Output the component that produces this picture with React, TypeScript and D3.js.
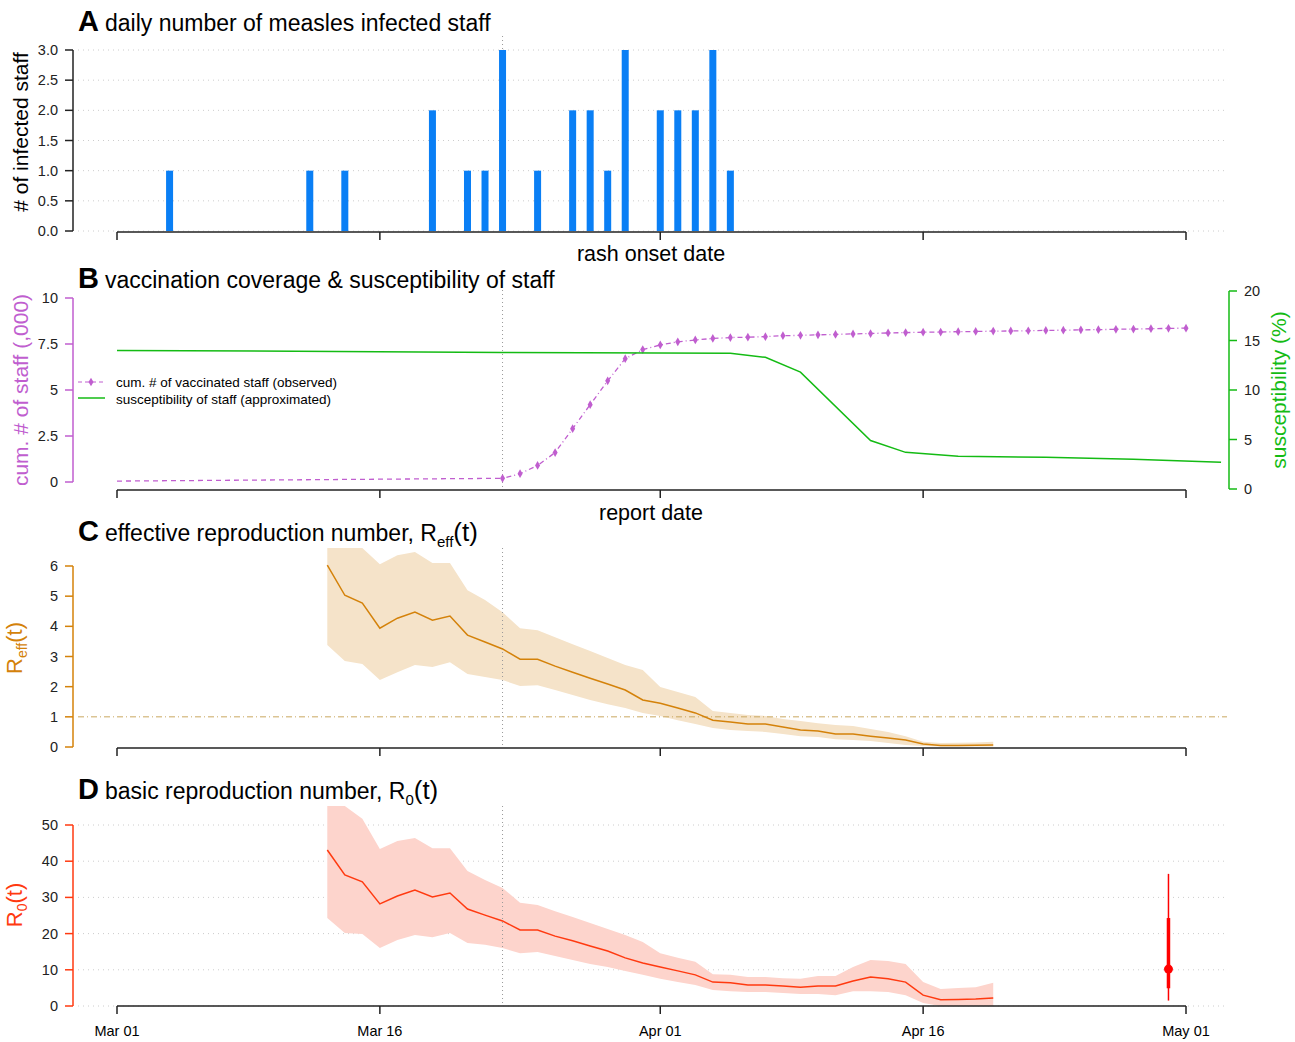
import React from 'react';
import * as d3 from 'd3';

const FONT = '"Liberation Sans", Arial, sans-serif';
const day = (m: number, d: number) => new Date(2000, m - 1, d);

// panel A: rash onset counts
const onsetDays = [[3,4],[3,12],[3,14],[3,19],[3,21],[3,22],[3,23],[3,25],[3,27],[3,28],[3,29],[3,30],[4,1],[4,2],[4,3],[4,4],[4,5]];
const onsetCounts = [1,1,1,2,1,1,3,1,2,2,1,3,2,2,2,3,1];

// panel B
const vaccStart = [day(3, 1), 0.05];
const vaccValues = [0.2,0.45,0.9,1.6,2.9,4.2,5.5,6.7,7.2,7.45,7.62,7.72,7.8,7.85,7.87,7.9,7.95,7.97,8.0,8.02,8.05,8.07,8.1,8.12,8.14,8.15,8.17,8.18,8.2,8.21,8.22,8.24,8.25,8.27,8.28,8.3,8.31,8.33,8.35,8.36]; // from Mar 23 daily
const suscDays = [[3,1],[3,23],[4,5],[4,7],[4,9],[4,13],[4,15],[4,18],[4,23],[4,28],[5,3]];
const suscValues = [14.0,13.8,13.7,13.3,11.8,4.9,3.7,3.3,3.2,3.0,2.7];

// panel C: Reff daily from Mar 13
const reffMid = [6.03,5.03,4.77,3.94,4.27,4.47,4.2,4.34,3.71,3.48,3.25,2.91,2.91,2.68,2.48,2.28,2.09,1.89,1.56,1.45,1.29,1.13,0.89,0.83,0.76,0.76,0.66,0.56,0.53,0.43,0.43,0.36,0.3,0.23,0.1,0.05,0.05,0.06,0.07];
const reffHi = [6.8,6.8,6.8,6.06,6.36,6.46,6.1,6.1,5.2,4.87,4.47,3.94,3.87,3.64,3.41,3.18,2.95,2.72,2.55,1.99,1.82,1.66,1.19,1.13,1.06,1.03,0.93,0.86,0.79,0.73,0.7,0.6,0.5,0.36,0.17,0.13,0.14,0.15,0.17];
const reffLo = [3.38,2.85,2.75,2.22,2.48,2.72,2.65,2.81,2.42,2.32,2.22,2.02,2.05,1.89,1.72,1.56,1.42,1.29,1.13,1.03,0.89,0.76,0.63,0.56,0.53,0.5,0.43,0.36,0.33,0.26,0.23,0.2,0.13,0.07,0.03,0.02,0.02,0.02,0.02];

// panel D: R0 daily from Mar 13
const r0Mid = [43.1,36.2,34.3,28.2,30.4,32,30.1,31.2,26.8,25.1,23.5,21,21,19.3,18,16.6,15.2,13.3,11.9,10.8,9.7,8.6,6.6,6.4,5.8,5.8,5.5,5.2,5.5,5.5,6.9,8.0,7.5,6.6,3.0,1.7,1.8,1.9,2.2];
const r0Hi = [56,56,51.7,43.4,45.6,46.4,43.6,43.6,37.3,34.8,32.6,28.5,27.9,26.2,24.6,22.9,21.3,19.6,17.7,14.6,13.3,12.2,8.8,8.6,8.0,8.0,7.7,7.5,8.3,8.3,10.8,12.7,12.4,11.6,6.6,4.7,5,5.2,6.4];
const r0Lo = [24.3,20.2,19.9,16,18.2,19.6,19,20.2,17.4,16.9,16,14.6,14.9,13.8,12.7,11.6,10.8,9.7,8.6,7.5,6.6,5.8,4.4,4.1,3.9,3.9,3.6,3.3,3.3,3.0,4.1,4.1,3.9,3.0,0.8,0,0,0,0];
const r0Summary = { date: day(4, 30), mid: 10.2, lo50: 4.9, hi50: 24.3, lo95: 1.5, hi95: 36.5 };

const tickDates = [day(3, 1), day(3, 16), day(4, 1), day(4, 16), day(5, 1)];
const tickLabels = ['Mar 01', 'Mar 16', 'Apr 01', 'Apr 16', 'May 01'];
const refDate = day(3, 23);

const dailyFrom = (m: number, d: number, n: number) => d3.range(n).map(i => day(m, d + i));

export default function App() {
  const x = d3.scaleTime().domain([day(3, 1), day(5, 1)]).range([117, 1186]);
  const gridX0 = 78, gridX1 = 1227;

  const yA = d3.scaleLinear().domain([0, 3]).range([231, 50]);
  const yB = d3.scaleLinear().domain([0, 10]).range([482, 298]);
  const yB2 = d3.scaleLinear().domain([0, 20]).range([489, 291]);
  const yC = d3.scaleLinear().domain([0, 6]).range([747, 566]);
  const yD = d3.scaleLinear().domain([0, 50]).range([1006, 825]);

  const cDays = dailyFrom(3, 13, reffMid.length);
  const vDays = dailyFrom(3, 23, vaccValues.length);

  const vLine = d3.line<[Date, number]>().x(d => x(d[0])).y(d => yB(d[1]));
  const sLine = d3.line<[Date, number]>().x(d => x(d[0])).y(d => yB2(d[1]));
  const band = (hi: number[], lo: number[], y: d3.ScaleLinear<number, number>, clip: number) =>
    d3.area<number>().x((_, i) => x(cDays[i])).y0((_, i) => y(lo[i])).y1((_, i) => Math.max(y(hi[i]), clip))(d3.range(hi.length)) as string;
  const mline = (v: number[], y: d3.ScaleLinear<number, number>) =>
    d3.line<number>().x((_, i) => x(cDays[i])).y(d => y(d))(v) as string;

  const xAxis = (y0: number, labels: boolean) => (
    <g>
      <line x1={x(tickDates[0])} x2={x(tickDates[4])} y1={y0} y2={y0} stroke="#222" strokeWidth={1.5} />
      {tickDates.map((t, i) => (
        <g key={i}>
          <line x1={x(t)} x2={x(t)} y1={y0} y2={y0 + 8} stroke="#222" strokeWidth={1.5} />
          {labels && <text x={x(t)} y={y0 + 30} textAnchor="middle" fontSize={14.5}>{tickLabels[i]}</text>}
        </g>
      ))}
    </g>
  );

  const yAxis = (y: d3.ScaleLinear<number, number>, ticks: number[], fmt: (v: number) => string, color: string, ax = 73, right = false, grid = true) => (
    <g>
      <line x1={ax} x2={ax} y1={y(ticks[0])} y2={y(ticks[ticks.length - 1])} stroke={color} strokeWidth={1.5} />
      {ticks.map(t => (
        <g key={t}>
          {grid && <line x1={gridX0} x2={gridX1} y1={y(t)} y2={y(t)} stroke="#ccc" strokeDasharray="1,4" />}
          <line x1={ax} x2={right ? ax + 8 : ax - 8} y1={y(t)} y2={y(t)} stroke={color} strokeWidth={1.5} />
          <text x={right ? ax + 15 : ax - 15} y={y(t) + 5} textAnchor={right ? 'start' : 'end'} fontSize={14.5} fill="#222">{fmt(t)}</text>
        </g>
      ))}
    </g>
  );

  const title = (y: number, letter: string, body: React.ReactNode) => (
    <text x={78} y={y} fontSize={23}>
      <tspan fontWeight="bold" fontSize={29}>{letter}</tspan>
      <tspan dx={6}>{body}</tspan>
    </text>
  );

  const vline = (y1: number, y2: number) => (
    <line x1={x(refDate)} x2={x(refDate)} y1={y1} y2={y2} stroke="#999" strokeDasharray="1,3" />
  );

  const purple = '#c05ecf', green = '#14bb14', orange = '#d4820a', red = '#ff3a10';

  return (
    <svg width={1295} height={1042} style={{ position: 'absolute', left: 0, top: 0, fontFamily: FONT, background: '#fff' }}>
      {/* Panel A */}
      {title(31, 'A', 'daily number of measles infected staff')}
      {yAxis(yA, [0, 0.5, 1, 1.5, 2, 2.5, 3], d3.format('.1f'), '#222')}
      {vline(36, 231)}
      {onsetDays.map((d, i) => (
        <rect key={i} x={x(day(d[0], d[1])) - 3.5} width={7} y={yA(onsetCounts[i])} height={yA(0) - yA(onsetCounts[i])} fill="#0a7ff5" />
      ))}
      {xAxis(232, false)}
      <text x={651} y={261} textAnchor="middle" fontSize={21.5}>rash onset date</text>
      <text transform="translate(28,132) rotate(-90)" textAnchor="middle" fontSize={21}># of infected staff</text>

      {/* Panel B */}
      {title(288, 'B', 'vaccination coverage & susceptibility of staff')}
      {yAxis(yB, [0, 2.5, 5, 7.5, 10], d => String(d), purple, 73, false, false)}
      {yAxis(yB2, [0, 5, 10, 15, 20], d => String(d), green, 1229, true, false)}
      {vline(290, 489)}
      <path d={vLine([[vaccStart[0] as Date, vaccStart[1] as number], [vDays[0], vaccValues[0]]]) as string} fill="none" stroke={purple} strokeWidth={1.3} strokeDasharray="5,4" />
      <path d={vLine(vDays.map((d, i) => [d, vaccValues[i]] as [Date, number])) as string} fill="none" stroke={purple} strokeWidth={1.3} strokeDasharray="1,3,5,3" />
      {vDays.map((d, i) => (
        <path key={i} d={d3.symbol(d3.symbolDiamond, 22)() as string} transform={`translate(${x(d)},${yB(vaccValues[i])})`} fill={purple} />
      ))}
      <path d={sLine(suscDays.map((d, i) => [day(d[0], d[1]), suscValues[i]] as [Date, number])) as string} fill="none" stroke={green} strokeWidth={1.5} />
      {xAxis(490, false)}
      <text x={651} y={520} textAnchor="middle" fontSize={21.5}>report date</text>
      <text transform="translate(28,390) rotate(-90)" textAnchor="middle" fontSize={21} fill={purple}>cum. # of staff (,000)</text>
      <text transform="translate(1286,390) rotate(-90)" textAnchor="middle" fontSize={21} fill={green}>susceptibility (%)</text>
      <g fontSize={13.5}>
        <line x1={78} x2={105} y1={382} y2={382} stroke={purple} strokeDasharray="4,3" />
        <path d={d3.symbol(d3.symbolDiamond, 22)() as string} transform="translate(91,382)" fill={purple} />
        <text x={116} y={387}>cum. # of vaccinated staff (observed)</text>
        <line x1={78} x2={105} y1={398} y2={398} stroke={green} strokeWidth={1.5} />
        <text x={116} y={404}>susceptibility of staff (approximated)</text>
      </g>

      {/* Panel C */}
      {title(541, 'C', <>effective reproduction number, R<tspan fontSize={15} dy={6}>eff</tspan><tspan dy={-6} fontSize={26}>(t)</tspan></>)}
      {yAxis(yC, [0, 1, 2, 3, 4, 5, 6], d => String(d), orange, 73, false, false)}
      <path d={band(reffHi, reffLo, yC, 548)} fill="#f5e3c9" />
      {vline(548, 747)}
      <line x1={gridX0} x2={gridX1} y1={yC(1)} y2={yC(1)} stroke="#c9a860" strokeDasharray="6,3,1,3" />
      <path d={mline(reffMid, yC)} fill="none" stroke={orange} strokeWidth={1.5} />
      {xAxis(748, false)}
      <text transform="translate(22,648) rotate(-90)" textAnchor="middle" fontSize={22} fill={orange}>R<tspan fontSize={14} dy={5}>eff</tspan><tspan dy={-5}>(t)</tspan></text>

      {/* Panel D */}
      {title(799, 'D', <>basic reproduction number, R<tspan fontSize={15} dy={6}>0</tspan><tspan dy={-6} fontSize={26}>(t)</tspan></>)}
      {yAxis(yD, [0, 10, 20, 30, 40, 50], d => String(d), red)}
      <path d={band(r0Hi, r0Lo, yD, 806)} fill="#fdd4cc" />
      {vline(806, 1006)}
      <path d={mline(r0Mid, yD)} fill="none" stroke={red} strokeWidth={1.5} />
      <line x1={x(r0Summary.date)} x2={x(r0Summary.date)} y1={yD(r0Summary.lo95)} y2={yD(r0Summary.hi95)} stroke="#f00" strokeWidth={1.5} />
      <line x1={x(r0Summary.date)} x2={x(r0Summary.date)} y1={yD(r0Summary.lo50)} y2={yD(r0Summary.hi50)} stroke="#f00" strokeWidth={3.5} />
      <circle cx={x(r0Summary.date)} cy={yD(r0Summary.mid)} r={4.5} fill="#f00" />
      {xAxis(1006, true)}
      <text transform="translate(22,905) rotate(-90)" textAnchor="middle" fontSize={22} fill={red}>R<tspan fontSize={14} dy={5}>0</tspan><tspan dy={-5}>(t)</tspan></text>
    </svg>
  );
}
